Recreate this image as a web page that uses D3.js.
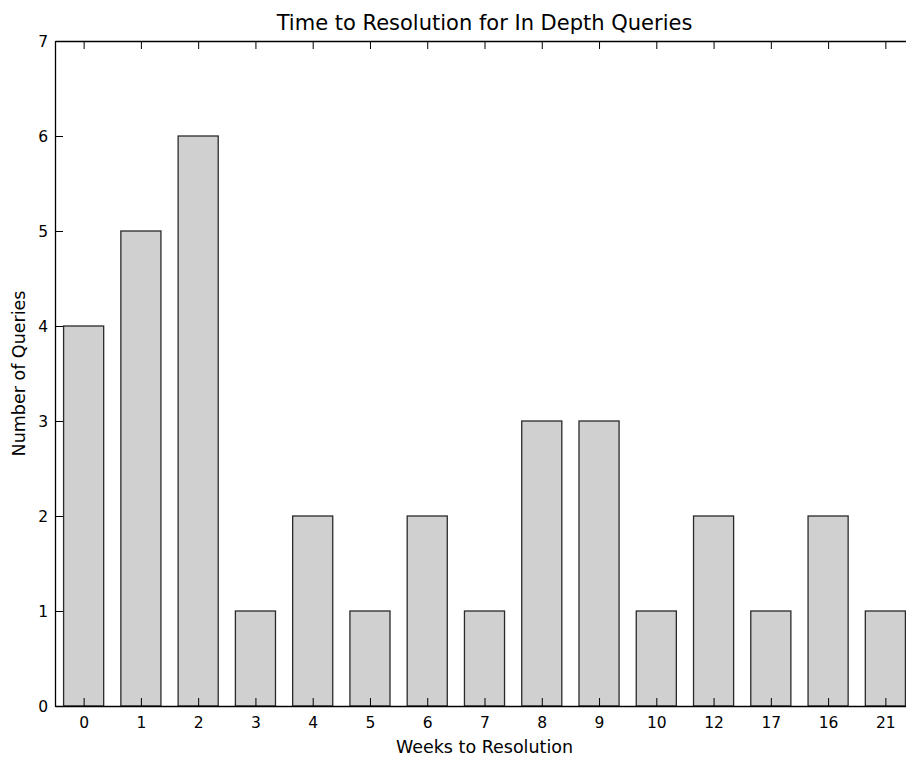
<!DOCTYPE html>
<html>
<head>
<meta charset="utf-8">
<script src="https://cdn.jsdelivr.net/npm/d3@7"></script>
<style>
body { margin: 0; background: #fff; }
svg { display: block; font-family: "DejaVu Sans", sans-serif; }
</style>
</head>
<body>
<svg></svg>
<script>
// chart data
const weeks = ["0", "1", "2", "3", "4", "5", "6", "7", "8", "9", "10", "12", "17", "16", "21"];
const queries = [4, 5, 6, 1, 2, 1, 2, 1, 3, 3, 1, 2, 1, 2, 1];
const yTicks = [0, 1, 2, 3, 4, 5, 6, 7];

const width = 906;
const height = 757;
const margin = {top: 41, left: 55, bottom: 51};
const plotW = 859; // plot runs past the right edge, as in the picture
const plotH = height - margin.top - margin.bottom;

const svg = d3.select("svg")
  .attr("width", width)
  .attr("height", height);

// each category sits on an integer slot
const x = d3.scaleLinear()
  .domain([-0.5, weeks.length - 0.5])
  .range([margin.left, margin.left + plotW]);

const y = d3.scaleLinear()
  .domain([0, 7])
  .range([margin.top + plotH, margin.top]);

const barW = 0.7;

// bars
svg.append("g")
  .selectAll("rect")
  .data(queries)
  .enter()
  .append("rect")
  .attr("x", (d, i) => x(i - barW / 2))
  .attr("width", x(barW) - x(0))
  .attr("y", d => y(d))
  .attr("height", d => y(0) - y(d))
  .attr("fill", "#d0d0d0")
  .attr("stroke", "#2a2a2a")
  .attr("stroke-width", 1.3);

// axes, ticks pointing inward
const xIdx = d3.range(weeks.length);

const xBottom = svg.append("g")
  .attr("transform", `translate(0,${y(0)})`)
  .call(d3.axisBottom(x).tickValues(xIdx).tickFormat(i => weeks[i]).tickSizeInner(-8).tickSizeOuter(0).tickPadding(11));

const xTop = svg.append("g")
  .attr("transform", `translate(0,${y(7)})`)
  .call(d3.axisTop(x).tickValues(xIdx).tickFormat("").tickSizeInner(-8).tickSizeOuter(0));

const yLeft = svg.append("g")
  .attr("transform", `translate(${x(-0.5)},0)`)
  .call(d3.axisLeft(y).tickValues(yTicks).tickFormat(d3.format("d")).tickSizeInner(-8).tickSizeOuter(0).tickPadding(7));

const yRight = svg.append("g")
  .attr("transform", `translate(${x(weeks.length - 0.5)},0)`)
  .call(d3.axisRight(y).tickValues(yTicks).tickFormat("").tickSizeInner(-8).tickSizeOuter(0));

[xBottom, xTop, yLeft, yRight].forEach(g => {
  g.select(".domain").attr("stroke", "#000").attr("stroke-width", 1.3);
  g.selectAll(".tick line").attr("stroke", "#000").attr("stroke-width", 1);
  g.selectAll("text").attr("font-family", "DejaVu Sans, sans-serif").attr("font-size", 15.5).attr("fill", "#000");
});
yLeft.selectAll("text").attr("dy", "0.35em");

// titles
svg.append("text")
  .attr("x", x(weeks.length / 2 - 0.5))
  .attr("y", 30)
  .attr("text-anchor", "middle")
  .attr("font-size", 21)
  .text("Time to Resolution for In Depth Queries");

svg.append("text")
  .attr("x", x(weeks.length / 2 - 0.5))
  .attr("y", 753)
  .attr("text-anchor", "middle")
  .attr("font-size", 17.5)
  .text("Weeks to Resolution");

svg.append("text")
  .attr("transform", `translate(25,${y(3.5)}) rotate(-90)`)
  .attr("text-anchor", "middle")
  .attr("font-size", 17.5)
  .text("Number of Queries");
</script>
</body>
</html>
